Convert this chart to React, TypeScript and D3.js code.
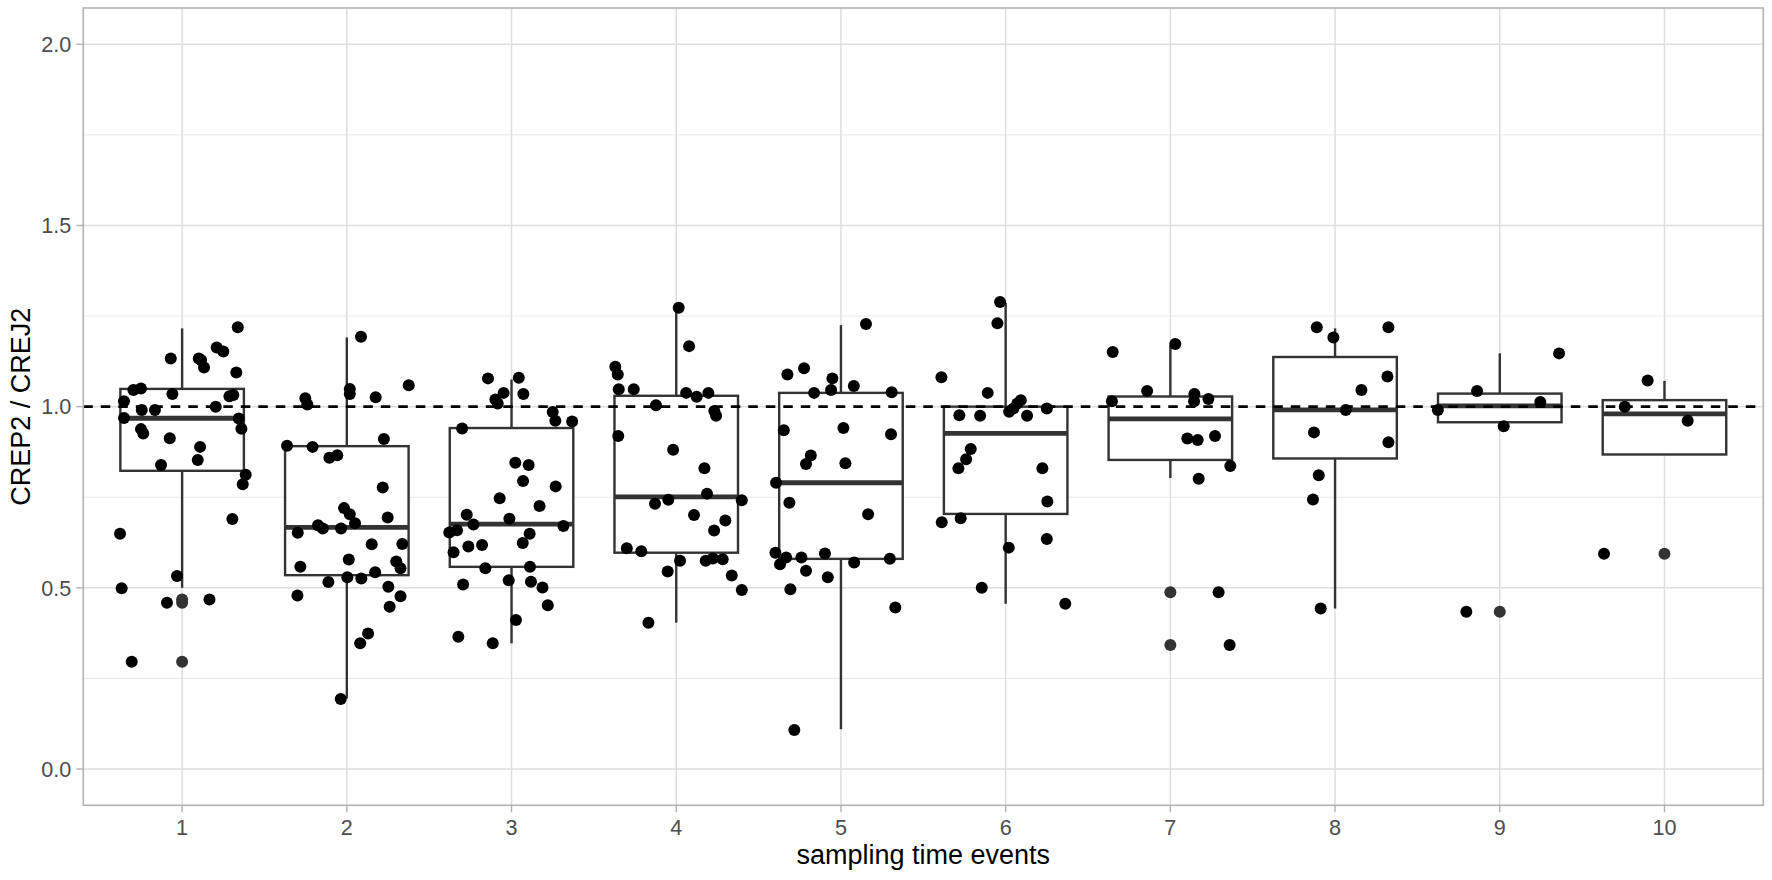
import React from 'react';
import * as d3 from 'd3';

// sampling time events on the x axis
const categories = ['1', '2', '3', '4', '5', '6', '7', '8', '9', '10'];

// jittered observations per event: [horizontal jitter (in category widths), ratio]
const event1: [number, number][] = [
  [0.338, 1.219], [-0.069, 1.133], [0.101, 1.133], [0.115, 1.129], [0.133, 1.108],
  [0.21, 1.163], [0.25, 1.152], [0.329, 1.094], [-0.296, 1.046], [-0.25, 1.05],
  [-0.059, 1.035], [0.287, 1.029], [0.311, 1.032], [-0.353, 1.015], [-0.245, 0.991],
  [-0.165, 0.991], [0.204, 1.0], [-0.353, 0.969], [0.344, 0.967], [0.36, 0.939],
  [-0.25, 0.938], [-0.236, 0.926], [-0.075, 0.913], [0.109, 0.889], [0.095, 0.853],
  [-0.128, 0.839], [0.386, 0.812], [0.368, 0.786], [0.305, 0.69], [-0.377, 0.649],
  [-0.031, 0.533], [-0.367, 0.499], [-0.092, 0.459], [0.166, 0.468], [-0.306, 0.296],
];
const event2: [number, number][] = [
  [0.086, 1.193], [0.376, 1.059], [-0.252, 1.023], [-0.24, 1.006], [0.018, 1.049],
  [0.018, 1.035], [0.175, 1.026], [-0.363, 0.892], [-0.208, 0.889], [0.225, 0.911],
  [-0.106, 0.859], [-0.058, 0.866], [0.218, 0.777], [-0.017, 0.72], [0.018, 0.703],
  [0.05, 0.678], [0.248, 0.694], [-0.175, 0.673], [-0.146, 0.664], [-0.035, 0.664],
  [-0.298, 0.652], [0.151, 0.62], [0.337, 0.621], [-0.282, 0.558], [0.012, 0.578],
  [0.3, 0.573], [0.326, 0.554], [0.172, 0.543], [-0.112, 0.516], [0.003, 0.529],
  [0.088, 0.526], [-0.3, 0.479], [0.252, 0.503], [0.326, 0.477], [0.26, 0.448],
  [0.129, 0.374], [0.081, 0.347], [-0.037, 0.193],
];
const event3: [number, number][] = [
  [-0.143, 1.078], [0.044, 1.08], [-0.048, 1.038], [0.072, 1.035], [-0.098, 1.02],
  [-0.084, 1.009], [0.25, 0.985], [0.266, 0.961], [0.368, 0.959], [-0.3, 0.94],
  [0.023, 0.845], [0.104, 0.839], [0.07, 0.795], [0.268, 0.78], [-0.072, 0.747],
  [0.17, 0.726], [-0.272, 0.702], [-0.013, 0.691], [-0.231, 0.675], [0.315, 0.671],
  [-0.378, 0.653], [-0.331, 0.659], [0.11, 0.649], [0.068, 0.624], [-0.262, 0.614],
  [-0.179, 0.618], [-0.352, 0.598], [-0.159, 0.554], [0.112, 0.558], [-0.017, 0.521],
  [0.118, 0.517], [-0.294, 0.509], [0.188, 0.501], [0.22, 0.452], [0.027, 0.411],
  [-0.323, 0.365], [-0.114, 0.347],
];
const event4: [number, number][] = [
  [0.015, 1.273], [0.078, 1.167], [-0.37, 1.11], [-0.355, 1.089], [-0.349, 1.048],
  [-0.258, 1.048], [0.06, 1.038], [0.124, 1.027], [0.195, 1.038], [-0.123, 1.004],
  [0.231, 0.988], [0.242, 0.975], [-0.352, 0.919], [-0.019, 0.881], [0.171, 0.83],
  [0.187, 0.76], [0.398, 0.742], [-0.048, 0.743], [-0.129, 0.732], [0.108, 0.701],
  [0.298, 0.686], [0.23, 0.658], [-0.3, 0.609], [-0.212, 0.601], [0.023, 0.575],
  [0.179, 0.575], [0.222, 0.581], [0.282, 0.579], [-0.052, 0.545], [0.337, 0.534],
  [0.398, 0.494], [-0.169, 0.404],
];
const event5: [number, number][] = [
  [0.152, 1.228], [-0.325, 1.089], [-0.224, 1.106], [-0.052, 1.078], [-0.06, 1.046],
  [-0.163, 1.038], [0.078, 1.057], [0.308, 1.04], [-0.347, 0.935], [0.015, 0.941],
  [0.304, 0.924], [-0.183, 0.865], [-0.212, 0.842], [0.027, 0.844], [-0.394, 0.79],
  [-0.313, 0.735], [0.165, 0.703], [-0.398, 0.597], [-0.333, 0.584], [-0.37, 0.565],
  [-0.24, 0.584], [-0.097, 0.595], [-0.212, 0.547], [-0.08, 0.529], [0.08, 0.57],
  [0.297, 0.58], [-0.307, 0.496], [0.33, 0.446], [-0.283, 0.108],
];
const event6: [number, number][] = [
  [-0.034, 1.289], [-0.05, 1.23], [-0.39, 1.081], [-0.109, 1.038], [0.092, 1.018],
  [0.071, 1.009], [0.047, 0.995], [0.021, 0.986], [0.25, 0.995], [-0.281, 0.976],
  [-0.155, 0.975], [0.13, 0.975], [-0.212, 0.883], [-0.24, 0.855], [-0.287, 0.83],
  [0.223, 0.83], [0.253, 0.738], [-0.388, 0.681], [-0.273, 0.692], [0.25, 0.635],
  [0.019, 0.611], [-0.145, 0.5], [0.362, 0.456],
];
const event7: [number, number][] = [
  [-0.35, 1.151], [0.03, 1.173], [-0.141, 1.043], [-0.355, 1.015], [0.146, 1.035],
  [0.144, 1.015], [0.231, 1.021], [0.103, 0.912], [0.166, 0.908], [0.271, 0.919],
  [0.364, 0.836], [0.172, 0.801], [0.293, 0.488], [0.36, 0.342],
];
const event8: [number, number][] = [
  [-0.111, 1.219], [0.324, 1.219], [-0.01, 1.191], [0.318, 1.083], [0.16, 1.046],
  [0.065, 0.991], [-0.128, 0.929], [0.324, 0.902], [-0.099, 0.811], [-0.134, 0.744],
  [-0.087, 0.443],
];
const event9: [number, number][] = [
  [0.36, 1.147], [-0.138, 1.043], [0.246, 1.013], [-0.376, 0.991], [0.024, 0.946],
  [-0.203, 0.434],
];
const event10: [number, number][] = [
  [-0.102, 1.072], [-0.241, 1.0], [0.141, 0.961], [-0.367, 0.594],
];
const eventPoints = [event1, event2, event3, event4, event5, event6, event7, event8, event9, event10];

// box summaries per event
const whiskerLow = [0.5, 0.195, 0.347, 0.404, 0.11, 0.456, 0.803, 0.443, 0.946, 0.868];
const lowerQuartile = [0.823, 0.535, 0.558, 0.597, 0.58, 0.704, 0.853, 0.857, 0.957, 0.868];
const medians = [0.968, 0.667, 0.676, 0.751, 0.79, 0.926, 0.966, 0.991, 1.002, 0.98];
const upperQuartile = [1.049, 0.891, 0.941, 1.03, 1.038, 1.0, 1.028, 1.137, 1.036, 1.018];
const whiskerHigh = [1.216, 1.191, 1.075, 1.273, 1.225, 1.287, 1.17, 1.216, 1.147, 1.071];
const outliers: [string, number][] = [
  ['1', 0.468], ['1', 0.459], ['1', 0.296],
  ['7', 0.488], ['7', 0.342],
  ['9', 0.434],
  ['10', 0.594],
];

const reference = 1.0;
const majorTicks = [0, 0.5, 1, 1.5, 2];
const minorTicks = [0.25, 0.75, 1.25, 1.75];

const W = 1772;
const H = 880;
const panel = { left: 83.3, right: 1763.3, top: 8, bottom: 805.3 };
const font = '"Liberation Sans", Arial, Helvetica, sans-serif';
const pointR = 6;

const App: React.FC = () => {
  const x = d3
    .scaleBand<string>()
    .domain(categories)
    .range([panel.left, panel.right])
    .paddingInner(0)
    .paddingOuter(0.1);
  const step = x.bandwidth();
  const cx = (c: string) => (x(c) ?? 0) + step / 2;

  const y = d3.scaleLinear().domain([-0.1, 2.1]).range([panel.bottom, panel.top]);
  const fmt = d3.format('.1f');
  const boxW = step * 0.75;

  return (
    <svg width={W} height={H} style={{ position: 'absolute', left: 0, top: 0, background: '#fff' }}>
      <rect x={0} y={0} width={W} height={H} fill="#fff" />

      {/* grid */}
      <g>
        {minorTicks.map((t) => (
          <line key={'mi' + t} x1={panel.left} x2={panel.right} y1={y(t)} y2={y(t)} stroke="#e6e6e6" strokeWidth={0.9} />
        ))}
        {majorTicks.map((t) => (
          <line key={'ma' + t} x1={panel.left} x2={panel.right} y1={y(t)} y2={y(t)} stroke="#dedede" strokeWidth={1.5} />
        ))}
        {categories.map((c) => (
          <line key={'v' + c} x1={cx(c)} x2={cx(c)} y1={panel.top} y2={panel.bottom} stroke="#dedede" strokeWidth={1.5} />
        ))}
      </g>

      {/* boxplots */}
      <g stroke="#333333" strokeWidth={2.4}>
        {categories.map((c, i) => {
          const mx = cx(c);
          return (
            <g key={'b' + c}>
              <line x1={mx} x2={mx} y1={y(upperQuartile[i])} y2={y(whiskerHigh[i])} />
              <line x1={mx} x2={mx} y1={y(lowerQuartile[i])} y2={y(whiskerLow[i])} />
              <rect
                x={mx - boxW / 2}
                y={y(upperQuartile[i])}
                width={boxW}
                height={y(lowerQuartile[i]) - y(upperQuartile[i])}
                fill="#fff"
              />
              <line x1={mx - boxW / 2} x2={mx + boxW / 2} y1={y(medians[i])} y2={y(medians[i])} strokeWidth={4.8} />
            </g>
          );
        })}
      </g>
      <g fill="#333333">
        {outliers.map(([c, v], i) => (
          <circle key={'o' + i} cx={cx(c)} cy={y(v)} r={pointR} />
        ))}
      </g>

      {/* reference line */}
      <line
        x1={panel.left}
        x2={panel.right}
        y1={y(reference)}
        y2={y(reference)}
        stroke="#000"
        strokeWidth={2.8}
        strokeDasharray="9.5,8"
      />

      {/* jittered observations */}
      <g fill="#000">
        {eventPoints.map((pts, i) =>
          pts.map(([off, v], j) => (
            <circle key={`p${i}-${j}`} cx={cx(categories[i]) + off * step} cy={y(v)} r={pointR} />
          ))
        )}
      </g>

      {/* panel border */}
      <rect
        x={panel.left}
        y={panel.top}
        width={panel.right - panel.left}
        height={panel.bottom - panel.top}
        fill="none"
        stroke="#b3b3b3"
        strokeWidth={1.6}
      />

      {/* axes */}
      <g fontFamily={font} fontSize={21.6} fill="#4d4d4d">
        {majorTicks.map((t) => (
          <g key={'yt' + t}>
            <line x1={panel.left - 7} x2={panel.left} y1={y(t)} y2={y(t)} stroke="#b3b3b3" strokeWidth={1.4} />
            <text x={panel.left - 12} y={y(t)} dy="0.36em" textAnchor="end">
              {fmt(t)}
            </text>
          </g>
        ))}
        {categories.map((c) => (
          <g key={'xt' + c}>
            <line x1={cx(c)} x2={cx(c)} y1={panel.bottom} y2={panel.bottom + 7} stroke="#b3b3b3" strokeWidth={1.4} />
            <text x={cx(c)} y={834.5} textAnchor="middle">
              {c}
            </text>
          </g>
        ))}
      </g>

      {/* axis titles */}
      <text x={(panel.left + panel.right) / 2} y={864} textAnchor="middle" fontFamily={font} fontSize={27} fill="#000">
        sampling time events
      </text>
      <text
        transform={`translate(30, ${(panel.top + panel.bottom) / 2}) rotate(-90)`}
        textAnchor="middle"
        fontFamily={font}
        fontSize={27}
        fill="#000"
      >
        CREP2 / CREJ2
      </text>
    </svg>
  );
};

export default App;
